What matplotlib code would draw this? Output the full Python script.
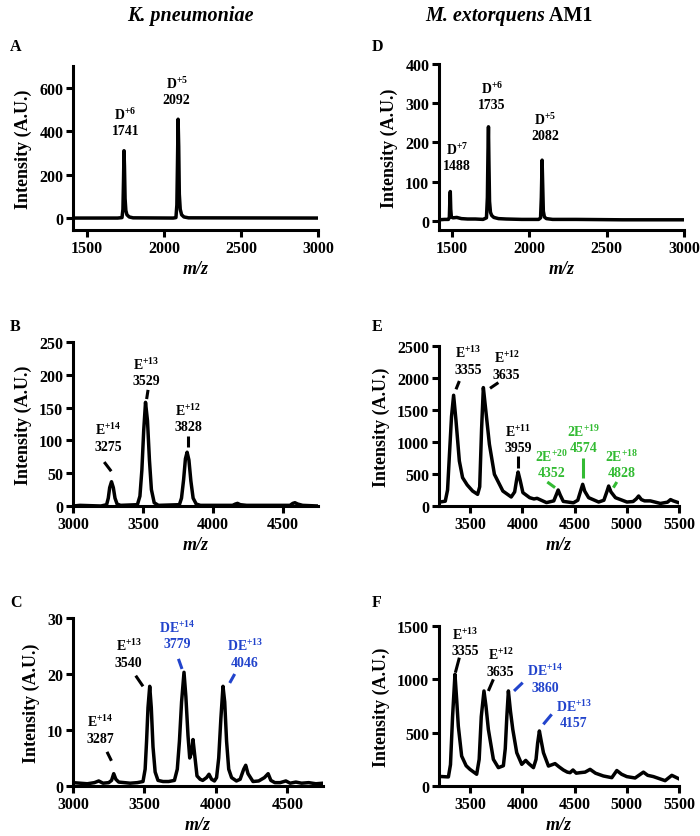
import matplotlib
matplotlib.use('Agg')
import matplotlib.pyplot as plt

plt.rcParams['font.family'] = ['Liberation Serif', 'DejaVu Serif']
plt.rcParams['font.weight'] = 'bold'
plt.rcParams['axes.labelweight'] = 'bold'
plt.rcParams['mathtext.fontset'] = 'custom'
plt.rcParams['mathtext.rm'] = 'Liberation Serif:bold'
plt.rcParams['mathtext.bf'] = 'Liberation Serif:bold'
plt.rcParams['mathtext.it'] = 'Liberation Serif:bold:italic'
plt.rcParams['mathtext.default'] = 'bf'

GREEN = '#33bb33'
BLUE = '#2244cc'

# ---------------- Panel A (K. pneumoniae, D) ----------------
a_mz = [1410, 1700, 1728, 1734, 1738, 1741, 1744, 1748, 1753, 1760, 1775, 1800,
        2060, 2078, 2084, 2088, 2092, 2096, 2100, 2106, 2115, 2130, 2160, 3000]
a_int = [0, 0, 2, 40, 180, 310, 240, 90, 35, 15, 5, 1,
         0, 2, 60, 250, 455, 330, 110, 40, 15, 5, 1, 0]
a_labels = ['D$^{+6}$\n1741', 'D$^{+5}$\n2092']
a_lab_x = [1750, 2083]
a_lab_y = [445, 588]

# ---------------- Panel D (M. extorquens, D) ----------------
d_mz = [1415, 1450, 1476, 1482, 1485, 1488, 1491, 1495, 1505, 1530, 1560, 1600, 1650,
        1700, 1722, 1728, 1732, 1735, 1738, 1742, 1748, 1756, 1770, 1800, 1850, 1950,
        2060, 2072, 2077, 2082, 2086, 2090, 2097, 2110, 2150, 2300, 2600, 3000]
d_int = [3, 4, 4, 10, 50, 75, 30, 10, 8, 9, 6, 5, 5,
         4, 8, 60, 180, 240, 150, 50, 22, 14, 9, 6, 5, 4,
         4, 8, 60, 155, 90, 25, 10, 6, 4, 4, 3, 3]
d_labels = ['D$^{+7}$\n1488', 'D$^{+6}$\n1735', 'D$^{+5}$\n2082']
d_lab_x = [1533, 1756, 2100]
d_lab_y = [164, 320, 240]

# ---------------- Panel B (K. pneumoniae, E) ----------------
b_mz = [3000, 3050, 3200, 3240, 3252, 3262, 3275, 3288, 3300, 3315, 3340,
        3460, 3478, 3492, 3505, 3518, 3532, 3546, 3560, 3580, 3610,
        3760, 3775, 3790, 3803, 3815, 3828, 3842, 3858, 3880, 3910,
        4140, 4160, 4175, 4195, 4240, 4550, 4570, 4585, 4605, 4640, 4750]
b_int = [0, 1, 0, 2, 12, 28, 37, 28, 12, 3, 1,
         2, 15, 55, 115, 158, 130, 70, 25, 5, 1,
         2, 12, 40, 72, 82, 70, 38, 12, 3, 1,
         1, 3, 4, 2, 1, 1, 4, 5, 3, 1, 0]
b_labels = ['E$^{+14}$\n3275', 'E$^{+13}$\n3529', 'E$^{+12}$\n3828']
b_lab_x = [3249, 3522, 3825]
b_lab_y = [105, 205, 135]
b_lead_x = [[3223, 3273], [3536, 3526], [3825, 3825]]
b_lead_y = [[67, 53], [177, 163], [107, 90]]

# ---------------- Panel E (M. extorquens, E) ----------------
e_mz = [3200, 3260, 3282, 3300, 3320, 3340, 3362, 3395, 3426, 3470, 3522, 3570, 3590,
        3608, 3625, 3648, 3683, 3731, 3812, 3892, 3925, 3945, 3958, 3978, 4004, 4069,
        4110, 4140, 4180, 4230, 4300, 4325, 4342, 4362, 4391, 4488, 4530, 4560, 4577,
        4597, 4634, 4730, 4780, 4810, 4826, 4848, 4891, 5001, 5060, 5090, 5113, 5140,
        5170, 5225, 5322, 5390, 5419, 5445, 5500]
e_int = [60, 75, 250, 800, 1400, 1730, 1350, 703, 443, 330, 234, 182, 300,
         1200, 1850, 1500, 964, 495, 234, 141, 220, 420, 531, 400, 209, 130,
         110, 120, 90, 53, 80, 180, 250, 170, 72, 50, 90, 250, 339,
         230, 130, 62, 90, 230, 312, 220, 130, 62, 70, 110, 156, 100,
         80, 80, 40, 60, 100, 80, 50]
e_labels = ['E$^{+13}$\n3355', 'E$^{+12}$\n3635', 'E$^{+11}$\n3959',
            '2E$^{+20}$\n4352', '2E$^{+19}$\n4574', '2E$^{+18}$\n4828']
e_lab_color = ['black', 'black', 'black', GREEN, GREEN, GREEN]
e_lab_x = [3481, 3849, 3960, 4281, 4584, 4951]
e_lab_y = [2279, 2201, 1055, 665, 1055, 665]
e_lead_x = [[3395, 3363], [3769, 3689], [3960, 3960], [4238, 4312], [4584, 4584], [4904, 4871]]
e_lead_y = [[1953, 1823], [1928, 1839], [781, 599], [375, 287], [755, 432], [375, 287]]

# ---------------- Panel C (K. pneumoniae, DE) ----------------
c_mz = [3000, 3050, 3100, 3150, 3180, 3210, 3250, 3270, 3285, 3300, 3320, 3360, 3400,
        3450, 3490, 3505, 3515, 3525, 3537, 3548, 3560, 3575, 3595, 3630, 3670, 3710,
        3730, 3745, 3760, 3777, 3790, 3805, 3817, 3830, 3840, 3852, 3868, 3890, 3908,
        3935, 3952, 3970, 3990, 4005, 4020, 4035, 4050, 4062, 4075, 4090, 4110, 4144,
        4170, 4195, 4209, 4225, 4260, 4300, 4340, 4366, 4385, 4413, 4450, 4490, 4520,
        4560, 4600, 4650, 4700, 4750]
c_int = [0.6, 0.5, 0.4, 0.6, 0.9, 0.5, 0.6, 1.0, 2.2, 1.2, 0.7, 0.6, 0.5,
         0.6, 0.8, 3, 8, 14, 17.8, 14, 7, 2.5, 1.0, 0.8, 0.8, 1.0,
         3, 8, 15, 20.3, 16, 9, 5, 6, 8.3, 5.5, 1.8, 1.2, 1.0,
         1.5, 2.1, 1.2, 0.9, 1.5, 5, 12, 17.8, 15, 8, 3, 1.5, 0.9,
         1.2, 3, 3.7, 2.2, 0.8, 0.9, 1.5, 2.2, 1.0, 0.6, 0.6, 0.9, 0.5,
         0.7, 0.5, 0.6, 0.4, 0.5]
c_labels = ['E$^{+14}$\n3287', 'E$^{+13}$\n3540', 'DE$^{+14}$\n3779', 'DE$^{+13}$\n4046']
c_lab_color = ['black', 'black', BLUE, BLUE]
c_lab_x = [3192, 3390, 3728, 4202]
c_lab_y = [10.2, 23.7, 27.0, 23.7]
c_lead_x = [[3238, 3269], [3439, 3490], [3738, 3763], [4132, 4097]]
c_lead_y = [[6.1, 4.5], [19.7, 17.8], [22.7, 20.9], [20.0, 18.4]]

# ---------------- Panel F (M. extorquens, DE) ----------------
f_mz = [3200, 3290, 3310, 3330, 3353, 3370, 3385, 3417, 3460, 3497, 3561, 3585, 3605,
        3631, 3650, 3673, 3721, 3769, 3817, 3835, 3850, 3865, 3885, 3907, 3945, 3993,
        4031, 4060, 4105, 4130, 4145, 4162, 4180, 4201, 4249, 4312, 4350, 4392, 4430,
        4456, 4484, 4515, 4552, 4600, 4648, 4700, 4775, 4856, 4904, 4950, 5000, 5079,
        5159, 5200, 5255, 5367, 5431, 5494]
f_int = [90, 85, 200, 650, 1047, 800, 562, 281, 190, 156, 110, 250, 650,
         891, 750, 531, 250, 172, 190, 350, 650, 891, 700, 531, 312, 203,
         240, 210, 172, 250, 400, 516, 420, 312, 187, 210, 180, 150, 130,
         125, 150, 120, 125, 130, 156, 120, 94, 78, 145, 110, 88, 75,
         130, 100, 88, 50, 100, 70]
f_labels = ['E$^{+13}$\n3355', 'E$^{+12}$\n3635', 'DE$^{+14}$\n3860', 'DE$^{+13}$\n4157']
f_lab_color = ['black', 'black', BLUE, BLUE]
f_lab_x = [3449, 3791, 4216, 4494]
f_lab_y = [1356, 1164, 1013, 680]
f_lead_x = [[3395, 3357], [3721, 3673], [4002, 3919], [4280, 4200]]
f_lead_y = [[1203, 1063], [1000, 891], [969, 891], [672, 578]]

W, H = 700, 837
fig = plt.figure(figsize=(W / 100, H / 100), dpi=100)


def rect(left, top, right, bottom):
    return [left / W, 1 - bottom / H, (right - left) / W, (bottom - top) / H]


def panel(r, mz, inten, xlim, ylim, xticks, yticks, labels, lx, ly,
          colors=None, leadx=(), leady=()):
    ax = fig.add_axes(r)
    ax.plot(mz, inten, color='black', lw=2.5, solid_joinstyle='round', zorder=3)
    ax.set_xlim(xlim)
    ax.set_ylim(ylim)
    for s in ['top', 'right']:
        ax.spines[s].set_visible(False)
    for s in ['left', 'bottom']:
        ax.spines[s].set_linewidth(2.2)
    ax.set_xticks(xticks)
    ax.set_yticks(yticks)
    ax.tick_params(width=2.2, length=5, labelsize=11.5, direction='out', pad=2)
    ax.set_xlabel('m/z', fontstyle='italic', fontsize=13, labelpad=3)
    ax.set_ylabel('Intensity (A.U.)', fontsize=13, labelpad=5)
    if colors is None:
        colors = ['black'] * len(labels)
    for t, x, y, c in zip(labels, lx, ly, colors):
        ax.text(x, y, t, ha='center', va='center', fontsize=10, color=c,
                linespacing=1.25, clip_on=False)
    for xs, ys, c in zip(leadx, leady, colors):
        ax.plot(xs, ys, color=c, lw=2.2, solid_capstyle='butt', clip_on=False)
    return ax


panel(rect(73, 67, 318, 231), a_mz, a_int, (1410, 3000), (-55, 700),
      [1500, 2000, 2500, 3000], [0, 200, 400, 600], a_labels, a_lab_x, a_lab_y)
panel(rect(439, 65, 684, 231), d_mz, d_int, (1415, 3000), (-23, 400),
      [1500, 2000, 2500, 3000], [0, 100, 200, 300, 400], d_labels, d_lab_x, d_lab_y)
panel(rect(73, 343, 318, 507), b_mz, b_int, (3000, 4750), (0, 250),
      [3000, 3500, 4000, 4500], [0, 50, 100, 150, 200, 250], b_labels, b_lab_x, b_lab_y,
      None, b_lead_x, b_lead_y)
panel(rect(439, 347, 679, 507), e_mz, e_int, (3200, 5500), (0, 2500),
      [3500, 4000, 4500, 5000, 5500], [0, 500, 1000, 1500, 2000, 2500],
      e_labels, e_lab_x, e_lab_y, e_lab_color, e_lead_x, e_lead_y)
panel(rect(73, 619, 323, 787), c_mz, c_int, (3000, 4750), (0, 30),
      [3000, 3500, 4000, 4500], [0, 10, 20, 30],
      c_labels, c_lab_x, c_lab_y, c_lab_color, c_lead_x, c_lead_y)
panel(rect(439, 627, 679, 787), f_mz, f_int, (3200, 5500), (0, 1500),
      [3500, 4000, 4500, 5000, 5500], [0, 500, 1000, 1500],
      f_labels, f_lab_x, f_lab_y, f_lab_color, f_lead_x, f_lead_y)

# Column titles
fig.text(190 / W, 1 - 16 / H, 'K. pneumoniae', ha='center', va='center',
         fontsize=14.5, fontstyle='italic', fontweight='bold')
fig.text(545 / W, 1 - 16 / H, 'M. extorquens', ha='right', va='center',
         fontsize=14.5, fontstyle='italic', fontweight='bold')
fig.text(545 / W, 1 - 16 / H, ' AM1', ha='left', va='center',
         fontsize=14.5, fontweight='bold')

# Panel letters
for letter, x, y in [('A', 10, 47), ('D', 372, 47), ('B', 10, 327),
                     ('E', 372, 327), ('C', 10, 603), ('F', 372, 603)]:
    fig.text(x / W, 1 - y / H, letter, ha='left', va='center',
             fontsize=11.5, fontweight='bold')

fig.savefig('out.png', dpi=100)
